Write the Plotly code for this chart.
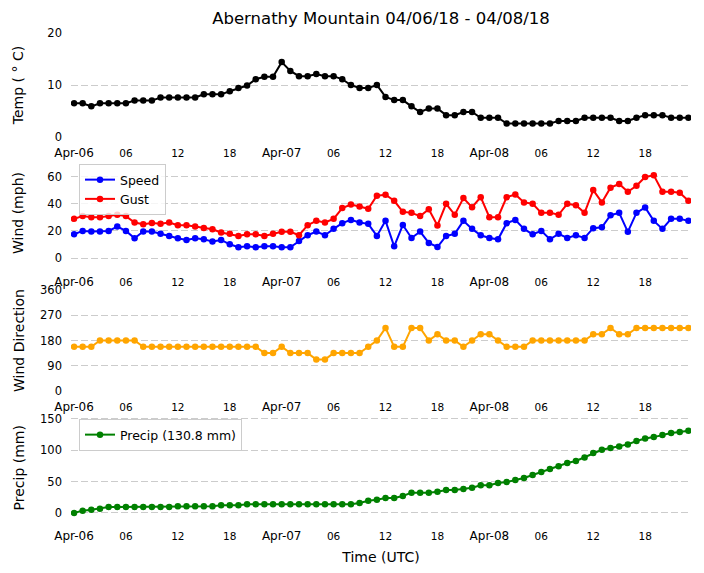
import pandas as pd
import plotly.graph_objects as go

# ---------------- data ----------------
start = pd.Timestamp("2018-04-06 00:00")
times = pd.date_range(start, periods=72, freq="h")

temp_c = [6.5, 6.5, 5.9, 6.5, 6.5, 6.5, 6.5, 7.0, 7.0, 7.0,
          7.6, 7.6, 7.6, 7.6, 7.6, 8.2, 8.2, 8.2, 8.8, 9.4,
          9.9, 11.1, 11.6, 11.6, 14.4, 12.7, 11.7, 11.7, 12.1, 11.7,
          11.7, 11.1, 10.0, 9.4, 9.4, 10.0, 7.7, 7.1, 7.1, 5.9,
          4.8, 5.5, 5.5, 4.2, 4.2, 4.8, 4.8, 3.7, 3.7, 3.7,
          2.6, 2.6, 2.6, 2.6, 2.6, 2.6, 3.1, 3.1, 3.1, 3.7,
          3.7, 3.7, 3.7, 3.1, 3.1, 3.7, 4.2, 4.2, 4.2, 3.7,
          3.7, 3.7]

wind_speed = [17.5, 20.0, 19.5, 19.5, 20.0, 23.2, 20.0, 14.6, 19.5, 19.5,
              17.8, 16.3, 14.6, 13.3, 14.6, 13.8, 12.1, 13.3, 10.1, 7.9,
              8.6, 7.9, 8.6, 8.6, 7.9, 7.9, 12.6, 16.8, 19.5, 16.8,
              21.5, 25.7, 28.1, 26.2, 25.2, 16.3, 27.4, 8.6, 24.4, 14.8,
              19.5, 11.1, 8.1, 16.3, 17.8, 27.4, 21.5, 16.8, 14.8, 13.8,
              25.7, 28.1, 21.5, 17.5, 20.0, 13.8, 17.8, 14.8, 16.8, 14.8,
              22.0, 22.7, 31.6, 33.3, 19.3, 33.3, 37.3, 27.4, 21.5, 28.9,
              28.9, 27.4]

wind_gust = [28.9, 30.9, 30.1, 30.1, 30.9, 31.9, 30.9, 26.2, 24.9, 25.9,
             25.2, 26.2, 24.2, 24.2, 23.2, 22.2, 21.2, 18.8, 17.8, 16.3,
             17.5, 17.5, 16.3, 17.8, 19.3, 19.3, 16.8, 24.2, 27.4, 26.2,
             28.9, 36.8, 39.5, 38.0, 36.3, 46.0, 46.7, 42.2, 34.1, 33.3,
             30.9, 36.0, 24.0, 40.0, 31.9, 44.2, 37.5, 44.9, 30.1, 30.1,
             44.9, 46.9, 41.0, 40.0, 33.3, 33.3, 31.9, 40.0, 39.0, 33.3,
             50.1, 41.0, 51.9, 54.6, 48.9, 53.3, 59.8, 61.0, 48.9, 48.9,
             48.1, 42.2]

wind_dir = [157.5, 157.5, 157.5, 180, 180, 180, 180, 180, 157.5, 157.5,
            157.5, 157.5, 157.5, 157.5, 157.5, 157.5, 157.5, 157.5, 157.5, 157.5,
            157.5, 157.5, 135, 135, 157.5, 135, 135, 135, 112.5, 112.5,
            135, 135, 135, 135, 157.5, 180, 225, 157.5, 157.5, 225,
            225, 180, 202.5, 180, 180, 157.5, 180, 202.5, 202.5, 180,
            157.5, 157.5, 157.5, 180, 180, 180, 180, 180, 180, 180,
            202.5, 202.5, 225, 202.5, 202.5, 225, 225, 225, 225, 225,
            225, 225]

precip_mm = [0.0, 3.7, 5.3, 6.9, 9.5, 9.5, 9.5, 9.5, 9.5, 9.5,
             9.5, 9.5, 10.6, 10.6, 10.6, 10.6, 10.6, 12.2, 12.2, 12.2,
             13.8, 13.8, 13.8, 13.8, 13.8, 13.8, 13.8, 13.8, 13.8, 13.8,
             13.8, 13.8, 13.8, 15.9, 19.4, 21.2, 23.8, 23.8, 27.0, 32.3,
             32.3, 32.3, 33.9, 36.6, 36.6, 38.2, 40.3, 44.0, 44.0, 47.7,
             49.3, 52.5, 55.6, 60.4, 65.2, 70.0, 74.2, 79.5, 82.7, 88.5,
             95.4, 100.7, 103.3, 106.0, 109.2, 114.5, 118.7, 120.8, 124.0, 127.2,
             128.8, 130.8]

tick_hours = list(range(0, 72, 6))
tick_labels = ["Apr-06", "06", "12", "18", "Apr-07", "06", "12", "18",
               "Apr-08", "06", "12", "18"]

title_text = "Abernathy Mountain 04/06/18 - 04/08/18"

# ---------------- figure ----------------
FONT = "DejaVu Sans"
GRID = "#cccccc"
DASH = "7px,3px"
H = 573.0

def dom(top_px, bot_px):
    return [1 - bot_px / H, 1 - top_px / H]

tickvals = [start + pd.Timedelta(hours=h) for h in tick_hours]
ticktext = [f'<span style="font-size:12px">{t}</span>' if t.startswith("Apr") else t
            for t in tick_labels]
xrange_ = [start - pd.Timedelta(hours=0.347), start + pd.Timedelta(hours=71.3)]

fig = go.Figure()
mk = dict(size=6.5)
fig.add_trace(go.Scatter(x=times, y=temp_c, mode="lines+markers", line=dict(color="black", width=2),
                         marker=dict(color="black", **mk), showlegend=False, xaxis="x", yaxis="y"))
fig.add_trace(go.Scatter(x=times, y=wind_speed, mode="lines+markers", name="Speed",
                         line=dict(color="blue", width=2), marker=dict(color="blue", **mk),
                         xaxis="x2", yaxis="y2", legend="legend"))
fig.add_trace(go.Scatter(x=times, y=wind_gust, mode="lines+markers", name="Gust",
                         line=dict(color="red", width=2), marker=dict(color="red", **mk),
                         xaxis="x2", yaxis="y2", legend="legend"))
fig.add_trace(go.Scatter(x=times, y=wind_dir, mode="lines+markers", line=dict(color="orange", width=2),
                         marker=dict(color="orange", **mk), showlegend=False, xaxis="x3", yaxis="y3"))
fig.add_trace(go.Scatter(x=times, y=precip_mm, mode="lines+markers",
                         name=f"Precip ({precip_mm[-1]:.1f} mm)",
                         line=dict(color="green", width=2), marker=dict(color="green", **mk),
                         xaxis="x4", yaxis="y4", legend="legend2"))

def xax(anchor, title=None):
    d = dict(anchor=anchor, type="date", range=xrange_, tickmode="array", tickvals=tickvals,
             ticktext=ticktext, showgrid=False, zeroline=False, showline=False, ticks="",
             tickfont=dict(family=FONT, size=10.5, color="black"), ticklabelstandoff=8,
             automargin=False)
    if title:
        d["title"] = dict(text=title, font=dict(family=FONT, size=14, color="black"), standoff=10)
    return d

def yax(anchor, domain, rng, tv, title, standoff, minor_grid=None):
    d = dict(anchor=anchor, domain=domain, range=rng, tickmode="array", tickvals=tv,
             showgrid=True, gridcolor=GRID, griddash=DASH, gridwidth=1, zeroline=False,
             showline=False, ticks="", ticklabelstandoff=8,
             tickfont=dict(family=FONT, size=11.5, color="black"),
             title=dict(text=title, font=dict(family=FONT, size=14, color="black"), standoff=standoff),
             automargin=False)
    if minor_grid is not None:
        d["showgrid"] = False
        d["minor"] = dict(tickmode="array", tickvals=minor_grid, showgrid=True, gridcolor=GRID,
                          griddash=DASH, gridwidth=1, ticks="")
    return d

fig.update_layout(
    width=704, height=573,
    margin=dict(l=71, r=13, t=0, b=0),
    paper_bgcolor="white", plot_bgcolor="white",
    font=dict(family=FONT, color="black"),
    title=dict(text=title_text, x=(71 + 691) / 2 / 704, xanchor="center", y=1 - 18 / H,
               yanchor="middle", yref="container", font=dict(family=FONT, size=16.5, color="black")),
    xaxis=xax("y"),
    xaxis2=xax("y2"),
    xaxis3=xax("y3"),
    xaxis4=xax("y4", "Time (UTC)"),
    yaxis=yax("x", dom(33, 137), [0, 20], [0, 10, 20], "Temp ( ° C)", 20, minor_grid=[10, 20]),
    yaxis2=yax("x2", dom(160, 266), [-5.9, 72.3], [0, 20, 40, 60], "Wind (mph)", 20),
    yaxis3=yax("x3", dom(290, 391), [0, 360], [0, 90, 180, 270, 360], "Wind Direction", 12),
    yaxis4=yax("x4", dom(415, 520.5), [-12, 156], [0, 50, 100, 150], "Precip (mm)", 12),
    legend=dict(x=(79 - 71) / 620, y=1 - 164 / H, xanchor="left", yanchor="top",
                bgcolor="rgba(255,255,255,0.8)", bordercolor="#cccccc", borderwidth=1,
                font=dict(family=FONT, size=12.5, color="black"), tracegroupgap=0),
    legend2=dict(x=(79 - 71) / 620, y=1 - 419 / H, xanchor="left", yanchor="top",
                 bgcolor="rgba(255,255,255,0.8)", bordercolor="#cccccc", borderwidth=1,
                 font=dict(family=FONT, size=12.5, color="black")),
)

fig.write_html("out.html", config={"displayModeBar": False},
               post_script="document.body.style.margin='0';document.body.style.overflow='hidden';")
